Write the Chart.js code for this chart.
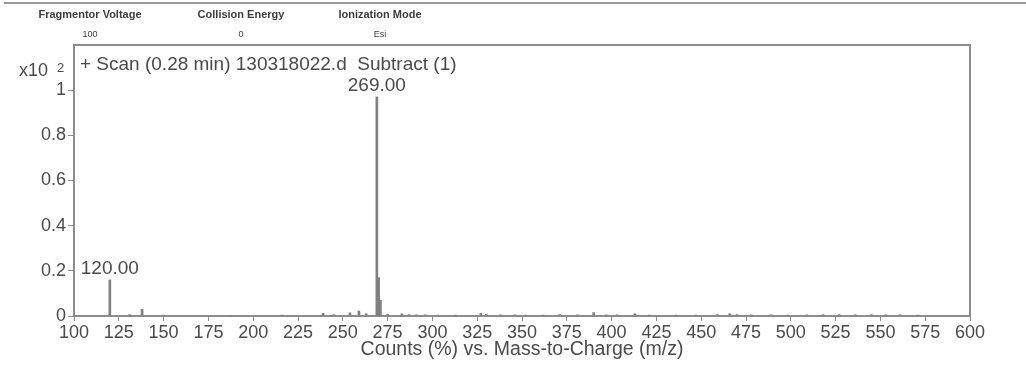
<!DOCTYPE html>
<html>
<head>
<meta charset="utf-8">
<script src="https://cdn.jsdelivr.net/npm/chart.js@4"></script>
<style>
  html, body { margin: 0; padding: 0; background: #fff; }
  #wrap { position: relative; width: 1026px; height: 365px; }
</style>
</head>
<body>
<div id="wrap"><canvas id="c"></canvas></div>
<script>
// peaks: m/z and intensity (x10^2 counts %)
const mzValues = [120, 131, 138, 150, 188, 216, 239, 245, 254, 259, 263, 269, 270, 271, 275, 283, 287, 291, 296, 303, 313, 327, 330, 338, 346, 352, 362, 371, 381, 390, 397, 403, 413, 421, 436, 447, 459, 466, 470, 478, 489, 498, 509, 518, 527, 536, 545, 553, 561, 571];
const intensities = [0.16, 0.006, 0.03, 0.004, 0.003, 0.004, 0.012, 0.006, 0.014, 0.022, 0.01, 0.97, 0.17, 0.07, 0.008, 0.01, 0.006, 0.005, 0.005, 0.004, 0.004, 0.012, 0.008, 0.005, 0.005, 0.004, 0.004, 0.006, 0.005, 0.015, 0.005, 0.005, 0.01, 0.004, 0.004, 0.004, 0.006, 0.01, 0.006, 0.005, 0.005, 0.004, 0.005, 0.006, 0.006, 0.005, 0.006, 0.005, 0.006, 0.004];
const labelledPeaks = [120, 269];
const xTicksMin = 100, xTicksMax = 600, xStep = 25;
const yMax = 1.2, yStep = 0.2;

const headers = [
  { name: 'Fragmentor Voltage', value: '100', cx: 90 },
  { name: 'Collision Energy', value: '0', cx: 241 },
  { name: 'Ionization Mode', value: 'Esi', cx: 380 }
];
const scanTitle = '+ Scan (0.28 min) 130318022.d  Subtract (1)';
const xTitle = 'Counts (%) vs. Mass-to-Charge (m/z)';

const textColor = '#4a4a4a';
const lineColor = '#8c8c8c';
const FONT = '"Liberation Sans", Arial, sans-serif';

const peaks = mzValues.map((m, i) => ({ x: m, y: intensities[i] }));

const decorations = {
  id: 'decorations',
  afterDraw(chart) {
    const { ctx, chartArea: a, scales } = chart;
    ctx.save();
    // top separator line
    ctx.strokeStyle = '#999';
    ctx.lineWidth = 2;
    ctx.beginPath();
    ctx.moveTo(4, 3); ctx.lineTo(1026, 3);
    ctx.stroke();

    // frame (top + right)
    ctx.strokeStyle = lineColor;
    ctx.lineWidth = 2;
    ctx.beginPath();
    ctx.moveTo(a.left, a.top); ctx.lineTo(a.right, a.top); ctx.lineTo(a.right, a.bottom);
    ctx.stroke();

    // header block
    ctx.fillStyle = '#3c3c3c';
    ctx.textAlign = 'center';
    ctx.textBaseline = 'middle';
    headers.forEach(h => {
      ctx.font = 'bold 11px ' + FONT;
      ctx.fillText(h.name, h.cx, 15);
      ctx.font = '9px ' + FONT;
      ctx.fillText(h.value, h.cx, 35);
    });

    // scan title inside the plot
    ctx.fillStyle = textColor;
    ctx.font = '19px ' + FONT;
    ctx.textAlign = 'left';
    ctx.fillText(scanTitle, 80, 65);

    // y multiplier
    ctx.font = '18px ' + FONT;
    ctx.fillText('x10', 19, 71);
    ctx.font = '13px ' + FONT;
    ctx.fillText('2', 57, 68);

    // peak labels
    ctx.font = '19px ' + FONT;
    ctx.textAlign = 'center';
    ctx.textBaseline = 'bottom';
    labelledPeaks.forEach(m => {
      const p = peaks.find(d => d.x === m);
      const px = scales.x.getPixelForValue(p.x);
      const py = scales.y.getPixelForValue(p.y);
      ctx.fillText(p.x.toFixed(2), px, py - 2);
    });

    // x axis title
    ctx.font = '19.5px ' + FONT;
    ctx.textBaseline = 'middle';
    ctx.fillText(xTitle, (a.left + a.right) / 2, 350);
    ctx.restore();
  }
};

new Chart(document.getElementById('c'), {
  type: 'bar',
  data: {
    datasets: [{
      data: peaks,
      backgroundColor: '#808080',
      barThickness: 2,
      borderWidth: 0
    }]
  },
  options: {
    responsive: true,
    maintainAspectRatio: false,
    animation: false,
    layout: { padding: { left: 0, top: 45, right: 56, bottom: 0 } },
    plugins: { legend: { display: false }, tooltip: { enabled: false } },
    scales: {
      x: {
        type: 'linear',
        min: xTicksMin,
        max: xTicksMax,
        offset: false,
        afterFit: s => { s.height = 49; },
        ticks: {
          stepSize: xStep,
          color: textColor,
          font: { family: FONT, size: 18 },
          padding: 1,
          maxRotation: 0,
          autoSkip: false
        },
        grid: { offset: false, drawOnChartArea: false, drawTicks: true, tickLength: 5, color: lineColor },
        border: { display: true, color: lineColor, width: 2 }
      },
      y: {
        min: 0,
        max: yMax,
        afterFit: s => { s.width = 74; },
        afterBuildTicks: s => { s.ticks = s.ticks.filter(t => t.value <= 1.0001); },
        ticks: {
          stepSize: yStep,
          color: textColor,
          font: { family: FONT, size: 18 },
          padding: 2,
          callback: v => String(Math.round(v * 10) / 10)
        },
        grid: { drawOnChartArea: false, drawTicks: true, tickLength: 6, color: lineColor },
        border: { display: true, color: lineColor, width: 2 }
      }
    }
  },
  plugins: [decorations]
});
</script>
</body>
</html>
